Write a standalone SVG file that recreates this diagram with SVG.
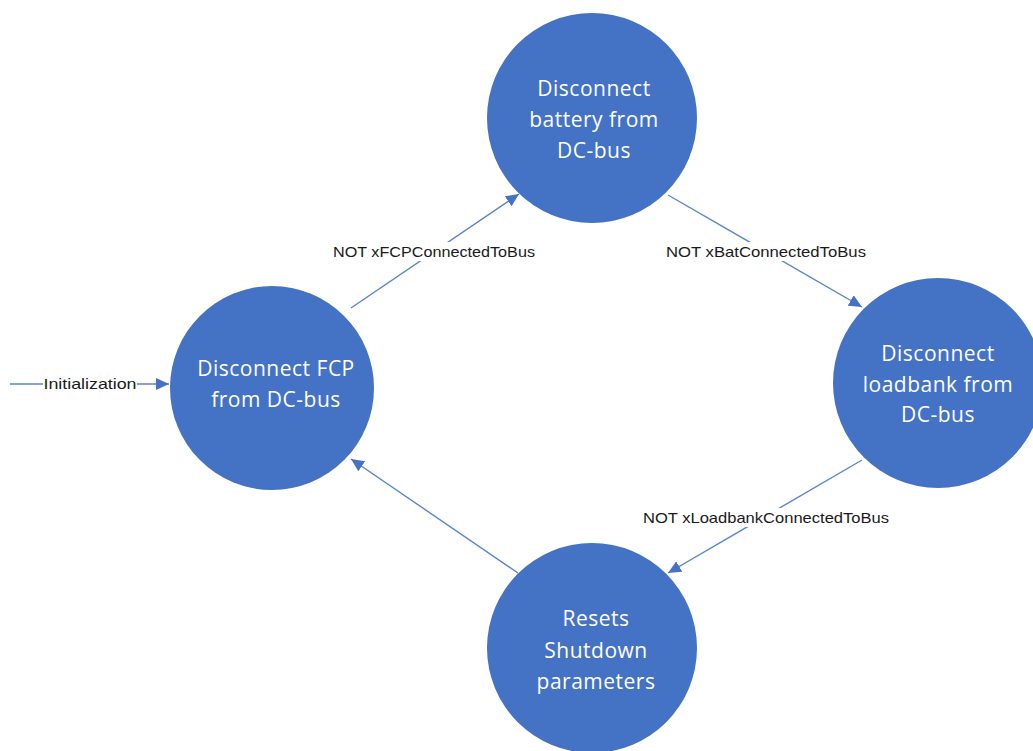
<svg xmlns="http://www.w3.org/2000/svg" width="1033" height="751" viewBox="0 0 1033 751">
  <defs>
    <marker id="arrow" markerUnits="userSpaceOnUse" markerWidth="14" markerHeight="12" refX="13" refY="6" orient="auto">
      <path d="M0,0 L13,6 L0,12 Z" fill="#4472C4"/>
    </marker>
    <style>
      .state { fill: #4472C4; }
      .state-text { font-family: "Open Sans", "Liberation Sans", sans-serif; font-size: 21px; letter-spacing: 0.5px; fill: #FFFFFF; text-anchor: middle; }
      .edge { stroke: #5B84CC; stroke-width: 1.4; fill: none; marker-end: url(#arrow); }
      .label-bg { fill: #FFFFFF; }
      .label { font-family: "Liberation Sans", "Open Sans", sans-serif; font-size: 15px; fill: #1A1A1A; text-anchor: middle; }
    </style>
  </defs>
  <rect width="1033" height="751" fill="#FFFFFF"/>

  <!-- transitions -->
  <g id="connectors">
    <line class="edge" x1="10" y1="384" x2="169" y2="384"/>
    <line class="edge" x1="351" y1="308" x2="519" y2="194"/>
    <line class="edge" x1="668" y1="195" x2="862" y2="307"/>
    <line class="edge" x1="862" y1="460" x2="668" y2="573"/>
    <line class="edge" x1="518" y1="573" x2="351" y2="459"/>

    <g id="label-init">
      <rect class="label-bg" x="43" y="376" width="94" height="16"/>
      <text class="label" x="90" y="389" font-size="14" textLength="93" lengthAdjust="spacingAndGlyphs">Initialization</text>
    </g>
    <g id="label-fcp">
      <rect class="label-bg" x="331" y="242" width="206" height="19"/>
      <text class="label" x="434" y="257" textLength="202" lengthAdjust="spacingAndGlyphs">NOT xFCPConnectedToBus</text>
    </g>
    <g id="label-bat">
      <rect class="label-bg" x="664" y="242" width="204" height="19"/>
      <text class="label" x="766" y="257" textLength="200" lengthAdjust="spacingAndGlyphs">NOT xBatConnectedToBus</text>
    </g>
    <g id="label-loadbank">
      <rect class="label-bg" x="641" y="508" width="250" height="19"/>
      <text class="label" x="766" y="523" textLength="246" lengthAdjust="spacingAndGlyphs">NOT xLoadbankConnectedToBus</text>
    </g>
  </g>

  <!-- states -->
  <g id="disconnect-fcp">
    <circle class="state" cx="272" cy="388" r="102"/>
    <text class="state-text" x="276" y="376">Disconnect FCP</text>
    <text class="state-text" x="276" y="407">from DC-bus</text>
  </g>

  <g id="disconnect-battery">
    <circle class="state" cx="592" cy="118" r="105"/>
    <text class="state-text" x="594" y="96">Disconnect</text>
    <text class="state-text" x="594" y="127">battery from</text>
    <text class="state-text" x="594" y="158">DC-bus</text>
  </g>

  <g id="disconnect-loadbank">
    <circle class="state" cx="938" cy="383" r="105"/>
    <text class="state-text" x="938" y="361">Disconnect</text>
    <text class="state-text" x="938" y="392">loadbank from</text>
    <text class="state-text" x="938" y="422">DC-bus</text>
  </g>

  <g id="reset-shutdown">
    <circle class="state" cx="592" cy="648" r="105"/>
    <text class="state-text" x="596" y="626">Resets</text>
    <text class="state-text" x="596" y="658">Shutdown</text>
    <text class="state-text" x="596" y="689">parameters</text>
  </g>
</svg>
